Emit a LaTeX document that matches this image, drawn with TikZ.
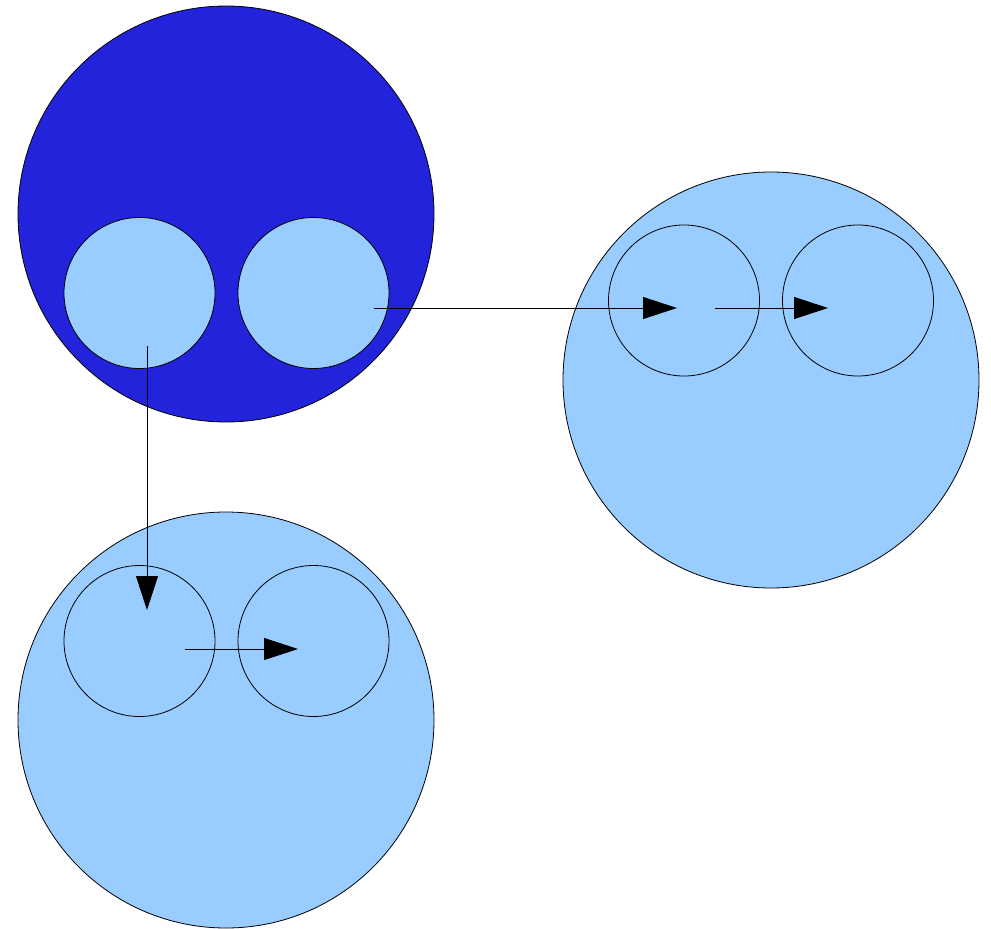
\documentclass[tikz,border=0pt]{standalone}
\usepackage{tikz}
\usetikzlibrary{arrows.meta}
\usetikzlibrary{positioning}
\definecolor{deepblue}{HTML}{2323DC}
\definecolor{paleblue}{HTML}{99CCFF}
\tikzset{
    % Solid triangular head, as drawn in the original sketch
    >={Triangle[length=34pt, width=22pt]},
%
    % The large containers
    big disk/.style={
        circle, draw, line width=0.8pt, minimum size=416pt, inner sep=0},
%
    % The small inner cells
    small disk/.style={
        circle, draw, line width=0.8pt, minimum size=151pt, inner sep=0},
%
    % Fills
    dark fill/.style={fill=deepblue},
    light fill/.style={fill=paleblue},
%
    % Connectors between cells
    link/.style={->, line width=0.8pt}}

\begin{document}
\begin{tikzpicture}[x=1pt, y=-1pt]

% Page extent
\useasboundingbox (0,0) rectangle (991,929);

% Source container
\node [big disk, dark fill] (src) at (226,214) {};
\node [small disk, light fill] (srcA) at (139.5,293) {};
\node [small disk, light fill] (srcB) at (313.5,293) {};

% Right copy
\node [big disk, light fill] (right) at (771,380) {};
\node [small disk] (rightA) at (684,300.5) {};
\node [small disk] (rightB) at (858,300.5) {};

% Lower copy
\node [big disk, light fill] (low) at (226,720) {};
\node [small disk] (lowA) at (139.5,641) {};
\node [small disk] (lowB) at (313.5,641) {};

% Connector ends
\coordinate (srcB out) at (374,308);
\coordinate (rightA in) at (677,308);
\coordinate (rightA out) at (715,308);
\coordinate (rightB in) at (828,308);
\coordinate (srcA out) at (147,346);
\coordinate (lowA in) at (147,610);
\coordinate (lowA out) at (185,649);
\coordinate (lowB in) at (298,649);

\draw [link] (srcB out) -- (rightA in);
\draw [link] (rightA out) -- (rightB in);
\draw [link] (srcA out) -- (lowA in);
\draw [link] (lowA out) -- (lowB in);

\end{tikzpicture}
\end{document}
